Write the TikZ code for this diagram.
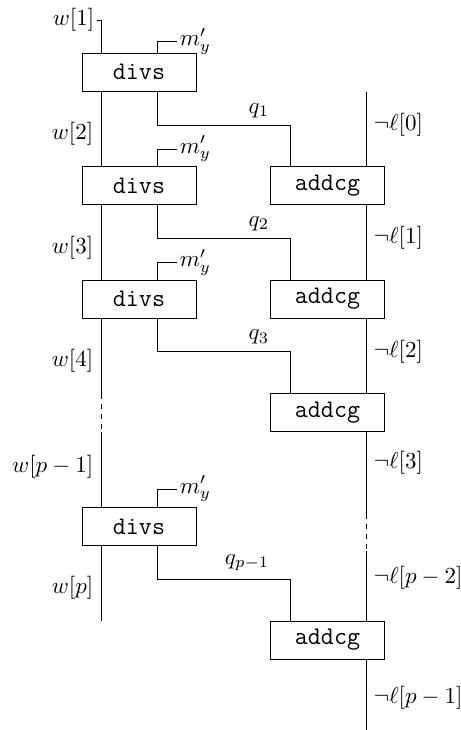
\documentclass[tikz,border=0pt]{standalone}
\begin{document}
\begin{tikzpicture}[x=0.4348pt,y=-0.4348pt,
  boxnode/.style={draw, minimum width=49.6pt, minimum height=16.5pt, inner sep=0pt, outer sep=0pt, font=\fontsize{11}{13}\selectfont\ttfamily},
  lbl/.style={inner sep=1pt},
  gapdash/.style={dash pattern=on 2.17pt off 2.17pt, dash phase=2.17pt}]
\useasboundingbox (0,0) rectangle (461,730);
% columns
\coordinate (L) at (101,0);
\coordinate (R) at (366,0);
\coordinate (M) at (157,0);
\coordinate (Q) at (290,0);
% boxes
\node[boxnode] (d0) at (139,72.3) {divs};
\node[boxnode] (d1) at (139,185.7) {divs};
\node[boxnode] (d2) at (139,299) {divs};
\node[boxnode] (d4) at (139,526.7) {divs};
\node[boxnode] (a1) at (327.5,185.7) {addcg};
\node[boxnode] (a2) at (327.5,299) {addcg};
\node[boxnode] (a3) at (327.5,412.3) {addcg};
\node[boxnode] (a5) at (327.5,640) {addcg};
% left wire
\node[lbl,anchor=east] (w1) at (97,20) {$w[1]$};
\draw (w1.east) -| (d0.north -| L);
\draw (d0.south -| L) -- (d1.north -| L);
\draw (d1.south -| L) -- (d2.north -| L);
\coordinate (ldA) at (101,399);
\coordinate (ldB) at (101,432);
\draw (d2.south -| L) -- (ldA);
\draw[gapdash] (ldA) -- (ldB);
\draw (ldB) -- (d4.north -| L);
\coordinate (lend) at (101,620.7);
\draw (d4.south -| L) -- (lend);
\node[lbl,anchor=east] (w2) at (96,134) {$w[2]$};
\node[lbl,anchor=east] (w3) at (96,248) {$w[3]$};
\node[lbl,anchor=east] (w4) at (96,361) {$w[4]$};
\node[lbl,anchor=east] (wp1) at (96,467) {$w[p-1]$};
\node[lbl,anchor=east] (wp) at (96,588) {$w[p]$};
% m'_y inputs
\node[lbl,anchor=west] (m0) at (177,41.7) {$m'_y$};
\node[lbl,anchor=west] (m1) at (177,149) {$m'_y$};
\node[lbl,anchor=west] (m2) at (177,262.3) {$m'_y$};
\node[lbl,anchor=west] (m4) at (177,489) {$m'_y$};
\draw (d0.north -| M) |- (m0.west);
\draw (d1.north -| M) |- (m1.west);
\draw (d2.north -| M) |- (m2.west);
\draw (d4.north -| M) |- (m4.west);
% q wires
\draw (d0.south -| M) -- ++(0,33.7) -| (a1.north -| Q);
\draw (d1.south -| M) -- ++(0,33.3) -| (a2.north -| Q);
\draw (d2.south -| M) -- ++(0,33.7) -| (a3.north -| Q);
\draw (d4.south -| M) -- ++(0,33.3) -| (a5.north -| Q);
\node[lbl,anchor=south east] (q1) at (272,120.5) {$q_1$};
\node[lbl,anchor=south east] (q2) at (272,233.5) {$q_2$};
\node[lbl,anchor=south east] (q3) at (272,347) {$q_3$};
\node[lbl,anchor=south east] (qp) at (272,573.5) {$q_{p-1}$};
% right wire
\coordinate (rtop) at (366,92.3);
\draw (rtop) -- (a1.north -| R);
\draw (a1.south -| R) -- (a2.north -| R);
\draw (a2.south -| R) -- (a3.north -| R);
\coordinate (rdA) at (366,519);
\coordinate (rdB) at (366,551);
\draw (a3.south -| R) -- (rdA);
\draw[gapdash] (rdA) -- (rdB);
\draw (rdB) -- (a5.north -| R);
\coordinate (rend) at (366,730);
\draw (a5.south -| R) -- (rend);
\node[lbl,anchor=west] (l0) at (371,124.5) {$\neg\ell[0]$};
\node[lbl,anchor=west] (l1) at (371,237.5) {$\neg\ell[1]$};
\node[lbl,anchor=west] (l2) at (371,351.7) {$\neg\ell[2]$};
\node[lbl,anchor=west] (l3) at (371,463) {$\neg\ell[3]$};
\node[lbl,anchor=west] (lp2) at (371,578) {$\neg\ell[p-2]$};
\node[lbl,anchor=west] (lp1) at (371,698) {$\neg\ell[p-1]$};
\end{tikzpicture}
\end{document}
